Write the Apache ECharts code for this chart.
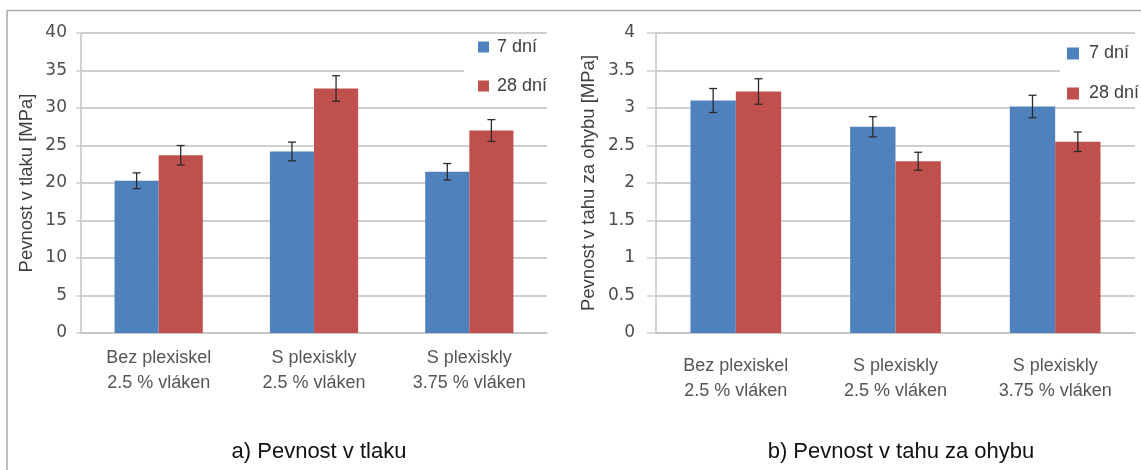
<!DOCTYPE html>
<html>
<head>
<meta charset="utf-8">
<script src="https://cdn.jsdelivr.net/npm/echarts@6/dist/echarts.min.js"></script>
<style>
html,body{margin:0;padding:0;background:#fff;}
#chart{width:1141px;height:470px;}
</style>
</head>
<body>
<div id="chart"></div>
<script>
// ---- data ----
const categories = ['Bez plexiskel\n2.5 % vláken', 'S plexiskly\n2.5 % vláken', 'S plexiskly\n3.75 % vláken'];
const seriesNames = ['7 dní', '28 dní'];

// a) Pevnost v tlaku [MPa]
const tlak7 = [20.3, 24.2, 21.5];
const tlak28 = [23.7, 32.6, 27.0];
const tlak7Err = [1.05, 1.25, 1.1];
const tlak28Err = [1.3, 1.7, 1.45];

// b) Pevnost v tahu za ohybu [MPa]
const ohyb7 = [3.10, 2.75, 3.02];
const ohyb28 = [3.22, 2.29, 2.55];
const ohyb7Err = [0.16, 0.135, 0.15];
const ohyb28Err = [0.17, 0.12, 0.13];

const titleA = 'a) Pevnost v tlaku';
const titleB = 'b) Pevnost v tahu za ohybu';
const yNameA = 'Pevnost v tlaku [MPa]';
const yNameB = 'Pevnost v tahu za ohybu [MPa]';

// ---- styling ----
const BLUE = '#4f81bd';
const RED = '#c0504d';
const GRID = '#cfcfcf';
const BAR_FRAC = 0.284;

function errData(vals, errs) {
  return vals.map((v, i) => [i, v, errs[i]]);
}

function errSeries(vals, errs, sign, axisIdx) {
  return {
    type: 'custom',
    xAxisIndex: axisIdx,
    yAxisIndex: axisIdx,
    silent: true,
    z: 10,
    data: errData(vals, errs),
    renderItem: function (params, api) {
      const i = api.value(0), v = api.value(1), e = api.value(2);
      const band = api.size([1, 0])[0];
      const off = sign * band * BAR_FRAC / 2;
      const top = api.coord([i, v + e]);
      const bot = api.coord([i, v - e]);
      const x = top[0] + off;
      const cap = 4;
      const style = { stroke: '#2b2b2b', lineWidth: 1.3 };
      return {
        type: 'group',
        children: [
          { type: 'line', shape: { x1: x, y1: top[1], x2: x, y2: bot[1] }, style: style },
          { type: 'line', shape: { x1: x - cap, y1: top[1], x2: x + cap, y2: top[1] }, style: style },
          { type: 'line', shape: { x1: x - cap, y1: bot[1], x2: x + cap, y2: bot[1] }, style: style }
        ]
      };
    }
  };
}

function xAxisCfg(gridIndex, margin) {
  return {
    type: 'category',
    gridIndex: gridIndex,
    data: categories,
    axisLine: { show: true, lineStyle: { color: '#c4c4c4', width: 1.5 } },
    axisTick: { show: false },
    axisLabel: {
      margin: margin,
      color: '#555555',
      fontFamily: 'Liberation Sans, Arial, sans-serif',
      fontSize: 18,
      lineHeight: 25
    }
  };
}

function yAxisCfg(gridIndex, max, interval, name, nameGap, labelMargin, tickLen) {
  return {
    type: 'value',
    gridIndex: gridIndex,
    min: 0,
    max: max,
    interval: interval,
    name: name,
    nameLocation: 'middle',
    nameGap: nameGap,
    nameTextStyle: {
      color: '#404040',
      fontFamily: 'Liberation Sans, Arial, sans-serif',
      fontSize: 18.5
    },
    axisLine: { show: true, lineStyle: { color: '#c4c4c4', width: 1.5 } },
    axisTick: { show: true, length: tickLen, lineStyle: { color: GRID, width: 1.5 } },
    axisLabel: {
      margin: labelMargin,
      color: '#4d4d4d',
      fontFamily: 'DejaVu Sans, sans-serif',
      fontSize: 17
    },
    splitLine: { show: true, lineStyle: { color: GRID, width: 1.8 } }
  };
}

const chart = echarts.init(document.getElementById('chart'));
chart.setOption({
  animation: false,
  backgroundColor: '#ffffff',
  title: [
    {
      text: titleA, left: 314, top: 434, textAlign: 'center',
      textStyle: { color: '#111', fontFamily: 'Liberation Sans, Arial, sans-serif', fontSize: 22, fontWeight: 'normal', lineHeight: 26 }
    },
    {
      text: titleB, left: 896, top: 434, textAlign: 'center',
      textStyle: { color: '#111', fontFamily: 'Liberation Sans, Arial, sans-serif', fontSize: 22, fontWeight: 'normal', lineHeight: 26 }
    }
  ],
  legend: [
    {
      orient: 'vertical', left: 464, top: 36, padding: [1, 8, 4, 14],
      backgroundColor: '#ffffff',
      itemWidth: 11, itemHeight: 11, itemGap: 19, icon: 'rect',
      data: seriesNames,
      textStyle: { color: '#404040', fontFamily: 'Liberation Sans, Arial, sans-serif', fontSize: 18, lineHeight: 20, padding: [0, 0, 0, 3] }
    },
    {
      orient: 'vertical', left: 1060, top: 37, padding: [6.5, 8, 2, 7],
      backgroundColor: '#ffffff',
      itemWidth: 12, itemHeight: 12, itemGap: 20, icon: 'rect',
      data: seriesNames,
      textStyle: { color: '#404040', fontFamily: 'Liberation Sans, Arial, sans-serif', fontSize: 18, lineHeight: 20, padding: [0, 0, 0, 5] }
    }
  ],
  grid: [
    { left: 81, right: 594, top: 33, bottom: 137, containLabel: false },
    { left: 656, right: 6, top: 33, bottom: 137, containLabel: false }
  ],
  xAxis: [xAxisCfg(0, 13), xAxisCfg(1, 21)],
  yAxis: [
    yAxisCfg(0, 40, 5, yNameA, 45, 14, 5),
    yAxisCfg(1, 4, 0.5, yNameB, 58, 21, 9)
  ],
  graphic: [
    { type: 'line', z: 100, shape: { x1: 7, y1: 10.5, x2: 1141, y2: 10.5 }, style: { stroke: '#a8a8a8', lineWidth: 1.5 } },
    { type: 'line', z: 100, shape: { x1: 7, y1: 10.5, x2: 7, y2: 470 }, style: { stroke: '#a8a8a8', lineWidth: 1.5 } }
  ],
  series: [
    { name: seriesNames[0], type: 'bar', xAxisIndex: 0, yAxisIndex: 0, data: tlak7, barWidth: '28.4%', barGap: '0%', itemStyle: { color: BLUE } },
    { name: seriesNames[1], type: 'bar', xAxisIndex: 0, yAxisIndex: 0, data: tlak28, barWidth: '28.4%', barGap: '0%', itemStyle: { color: RED } },
    { name: seriesNames[0], type: 'bar', xAxisIndex: 1, yAxisIndex: 1, data: ohyb7, barWidth: '28.4%', barGap: '0%', itemStyle: { color: BLUE } },
    { name: seriesNames[1], type: 'bar', xAxisIndex: 1, yAxisIndex: 1, data: ohyb28, barWidth: '28.4%', barGap: '0%', itemStyle: { color: RED } },
    errSeries(tlak7, tlak7Err, -1, 0),
    errSeries(tlak28, tlak28Err, 1, 0),
    errSeries(ohyb7, ohyb7Err, -1, 1),
    errSeries(ohyb28, ohyb28Err, 1, 1)
  ]
});
</script>
</body>
</html>
